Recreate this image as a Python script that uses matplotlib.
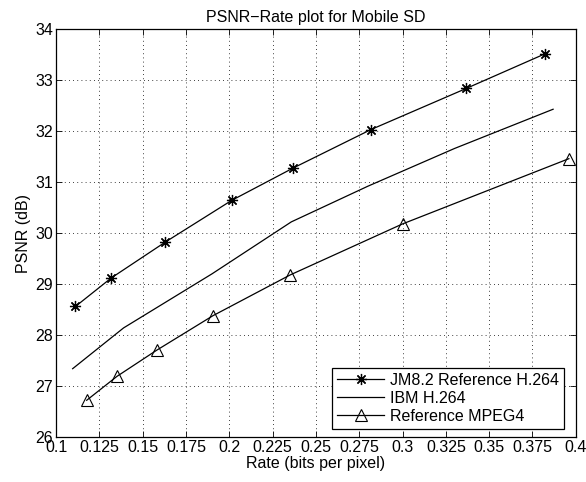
import matplotlib.pyplot as plt
import numpy as np

plt.rcParams['font.family'] = ['Liberation Sans', 'DejaVu Sans']

# rate (bits per pixel) and PSNR (dB)
jm_rate = [0.1112, 0.1319, 0.1629, 0.2013, 0.2365, 0.2817, 0.3369, 0.3824]
jm_psnr = [28.56, 29.12, 29.82, 30.64, 31.27, 32.03, 32.84, 33.52]

ibm_rate = [0.1096, 0.1390, 0.1900, 0.2358, 0.2800, 0.3300, 0.3869]
ibm_psnr = [27.34, 28.14, 29.20, 30.22, 30.92, 31.66, 32.43]

mpeg_rate = [0.1177, 0.1352, 0.1580, 0.1906, 0.2352, 0.3000, 0.3960]
mpeg_psnr = [26.72, 27.19, 27.70, 28.38, 29.18, 30.18, 31.46]

x_ticks = [0.1, 0.125, 0.15, 0.175, 0.2, 0.225, 0.25, 0.275, 0.3, 0.325, 0.35, 0.375, 0.4]
y_ticks = [26, 27, 28, 29, 30, 31, 32, 33, 34]

fs = 11.5

fig = plt.figure(figsize=(5.86, 4.82), dpi=100)
ax = fig.add_axes([0.0956, 0.0934, 0.887, 0.846])

ax.plot(jm_rate, jm_psnr, color='k', lw=0.9, marker=(8, 2, 0), ms=8,
        mew=0.9, label='JM8.2 Reference H.264')
ax.plot(ibm_rate, ibm_psnr, color='k', lw=0.9, label='IBM H.264')
ax.plot(mpeg_rate, mpeg_psnr, color='k', lw=0.9, marker='^', ms=9,
        mfc='none', mec='k', mew=0.8, label='Reference MPEG4')

ax.set_xlim(0.1, 0.4)
ax.set_ylim(26, 34)
ax.set_xticks(x_ticks)
ax.set_xticklabels([('%g' % t) for t in x_ticks])
ax.set_yticks(y_ticks)
ax.tick_params(direction='in', top=True, right=True, labelsize=fs, length=4,
               width=0.6, pad=2)
ax.grid(True, color='k', linestyle=(0, (1, 4)), linewidth=0.6)
for s in ax.spines.values():
    s.set_linewidth(0.9)

ax.set_xlabel('Rate (bits per pixel)', fontsize=fs, labelpad=1)
ax.set_ylabel('PSNR (dB)', fontsize=fs, labelpad=3)
ax.set_title('PSNR\u2212Rate plot for Mobile SD', fontsize=fs, pad=5)

leg = ax.legend(loc='lower right', bbox_to_anchor=(0.977, 0.02), fontsize=fs,
                fancybox=False, framealpha=1, edgecolor='k', handlelength=3.0,
                borderaxespad=0, labelspacing=0.2, borderpad=0.3,
                handletextpad=0.35)
leg.get_frame().set_linewidth(0.9)

fig.savefig('out.png', dpi=100)
